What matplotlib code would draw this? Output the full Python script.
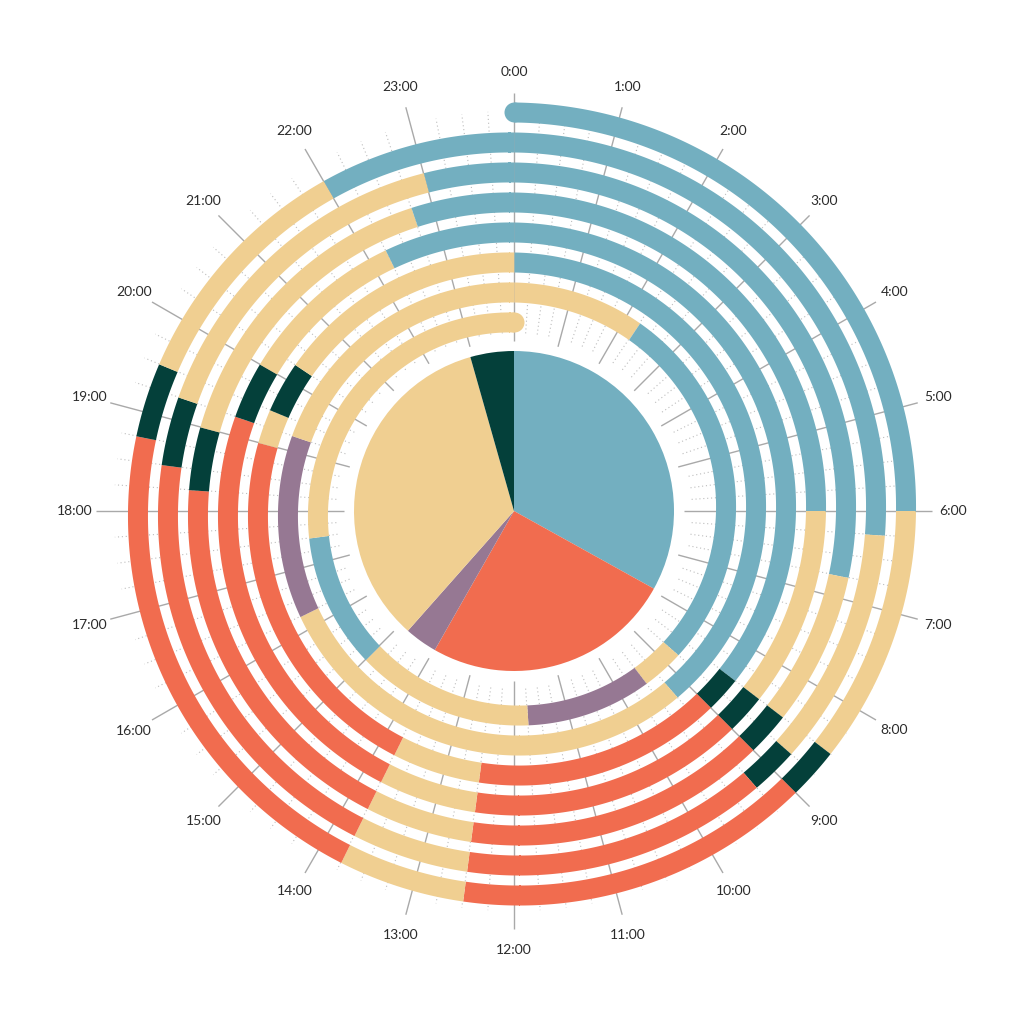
import numpy as np
import matplotlib
matplotlib.use("Agg")
import matplotlib.pyplot as plt

# ---------------- data (hours of each activity, one spiral turn per day) -------------
activity_colors = {
    "sleep": "#73AFC0",
    "free": "#F0CF91",
    "work": "#F16C4F",
    "commute": "#04403A",
    "sport": "#967893",
}

day1_bounds = [0, 6, 8.5, 9, 12.5, 13.75, 18.75, 19.5, 22, 24]
day1_acts = ["sleep", "free", "commute", "work", "free", "work", "commute", "free", "sleep"]

day2_bounds = [0, 6.25, 8.75, 9.25, 12.5, 13.75, 18.5, 19.25, 23, 24]
day2_acts = ["sleep", "free", "commute", "work", "free", "work", "commute", "free", "sleep"]

day3_bounds = [0, 6.75, 8.5, 9, 12.5, 13.75, 18.25, 19, 22.75, 24]
day3_acts = ["sleep", "free", "commute", "work", "free", "work", "commute", "free", "sleep"]

day4_bounds = [0, 6, 8.5, 9, 12.5, 13.75, 19.25, 20, 22.25, 24]
day4_acts = ["sleep", "free", "commute", "work", "free", "work", "commute", "free", "sleep"]

day5_bounds = [0, 8.5, 9, 12.5, 13.75, 19, 19.5, 20.25, 24]
day5_acts = ["sleep", "commute", "work", "free", "work", "free", "commute", "free"]

day6_bounds = [0, 9.25, 16.25, 19.25, 24]
day6_acts = ["sleep", "free", "sport", "free"]

day7_bounds = [0, 2.25, 8.75, 9.5, 11.75, 15, 17.5, 24]
day7_acts = ["free", "sleep", "free", "sport", "free", "sleep", "free"]

days_bounds = [day1_bounds, day2_bounds, day3_bounds, day4_bounds,
               day5_bounds, day6_bounds, day7_bounds]
days_acts = [day1_acts, day2_acts, day3_acts, day4_acts,
             day5_acts, day6_acts, day7_acts]

pie_acts = ["sleep", "work", "sport", "free", "commute"]
pie_share = [33.1, 25.2, 3.3, 34.1, 4.4]

hour_labels = [f"{h}:00" for h in range(24)]

# ---------------- geometry / style -------------
R0 = 399.0      # radius of spiral at start
STEP = 30.0     # radius lost per day
BAND = 20.0     # band thickness
PIE_R = 160.0
LABEL_R = 439.0
RMAX = 460.0

DPI = 100
fig = plt.figure(figsize=(10.24, 10.24), dpi=DPI, facecolor="white")
cx, cy = 514, 1024 - 511
ax = fig.add_axes([(cx - RMAX) / 1024, (cy - RMAX) / 1024, 2 * RMAX / 1024, 2 * RMAX / 1024],
                  projection="polar")
ax.set_theta_zero_location("N")
ax.set_theta_direction(-1)
ax.set_ylim(0, RMAX)
ax.grid(False)
ax.set_xticks([])
ax.set_yticks([])
ax.spines["polar"].set_visible(False)
ax.set_facecolor("white")


def hour_to_theta(h):
    return np.asarray(h) / 24.0 * 2 * np.pi


# grid: quarter-hour dotted lines and hour lines
for q in range(96):
    th = hour_to_theta(q / 4.0)
    if q % 4 == 0:
        ax.plot([th, th], [170, 418], color="#a9a9a9", lw=1.0, zorder=1,
                solid_capstyle="butt")
    else:
        ax.plot([th, th], [178, 400], color="#bdbdbd", lw=0.8, zorder=1,
                linestyle=(0, (1, 2.5)))

# spiral bands
for d, (bounds, acts) in enumerate(zip(days_bounds, days_acts)):
    for h0, h1, act in zip(bounds[:-1], bounds[1:], acts):
        n = max(2, int((h1 - h0) * 30))
        hh = np.linspace(h0, h1, n)
        th = hour_to_theta(hh)
        r = R0 - STEP * (d + hh / 24.0)
        ax.fill_between(th, r - BAND / 2, r + BAND / 2,
                        color=activity_colors[act], lw=0, zorder=3)

# rounded caps at the start and end of the spiral
cap_ms = BAND * 72 / DPI
ax.plot(hour_to_theta(days_bounds[0][0]), R0, "o", ms=cap_ms, mew=0,
        color=activity_colors[days_acts[0][0]], zorder=2.9)
ax.plot(hour_to_theta(days_bounds[-1][-1]), R0 - STEP * len(days_bounds), "o",
        ms=cap_ms, mew=0, color=activity_colors[days_acts[-1][-1]], zorder=2.9)

# central pie as polar wedges
shares = np.array(pie_share, dtype=float)
widths = shares / shares.sum() * 2 * np.pi
starts = np.concatenate([[0], np.cumsum(widths)[:-1]])
ax.bar(starts, PIE_R, width=widths, bottom=0, align="edge",
       color=[activity_colors[a] for a in pie_acts], linewidth=0, zorder=4)

# hour labels
for h, lab in enumerate(hour_labels):
    ax.text(hour_to_theta(h), LABEL_R, lab, ha="center", va="center",
            fontsize=10, color="#2b2b2b", family=["Lato", "DejaVu Sans"])

fig.savefig("out.png", dpi=DPI, facecolor="white")
